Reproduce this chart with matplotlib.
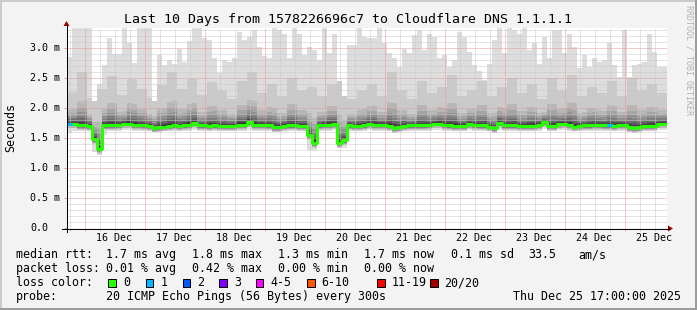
import numpy as np
import matplotlib
matplotlib.use("Agg")
from matplotlib import pyplot as plt
from matplotlib.lines import Line2D
from matplotlib.patches import Polygon, Rectangle
from matplotlib.transforms import offset_copy

plt.rcParams["font.family"] = ["DejaVu Sans Mono"]

# one column = 2 hours, from Thu Dec 15 17:00 to Thu Dec 25 17:00
col_hours = 2

# median rtt of each column (ms)
median_ms = [
    1.74, 1.74, 1.71, 1.71, 1.70, 1.48, 1.32, 1.71, 1.71, 1.71,
    1.72, 1.74, 1.74, 1.72, 1.72, 1.71, 1.70, 1.67, 1.68, 1.69,
    1.70, 1.71, 1.70, 1.71, 1.72, 1.75, 1.71, 1.71, 1.70, 1.71,
    1.70, 1.70, 1.70, 1.70, 1.72, 1.72, 1.76, 1.72, 1.72, 1.72,
    1.71, 1.68, 1.68, 1.70, 1.71, 1.71, 1.70, 1.70, 1.55, 1.42,
    1.71, 1.72, 1.72, 1.73, 1.42, 1.46, 1.71, 1.70, 1.70, 1.71,
    1.73, 1.72, 1.72, 1.72, 1.70, 1.67, 1.68, 1.70, 1.71, 1.71,
    1.71, 1.71, 1.72, 1.74, 1.74, 1.72, 1.71, 1.70, 1.70, 1.70,
    1.73, 1.72, 1.71, 1.71, 1.69, 1.67, 1.75, 1.71, 1.71, 1.71,
    1.70, 1.70, 1.70, 1.70, 1.72, 1.77, 1.70, 1.70, 1.73, 1.74,
    1.72, 1.69, 1.70, 1.71, 1.71, 1.72, 1.72, 1.71, 1.71, 1.70,
    1.72, 1.72, 1.68, 1.67, 1.68, 1.70, 1.70, 1.70, 1.74, 1.74,
]

# lost pings (of 20) per column
loss = [
    1, 0, 0, 0, 0, 0, 0, 0, 0, 0, 0, 0, 0, 0, 0, 0, 0, 0, 0, 0,
    0, 0, 0, 0, 0, 0, 0, 0, 0, 0, 0, 0, 0, 0, 0, 0, 0, 0, 0, 0,
    0, 0, 0, 0, 0, 0, 0, 0, 0, 0, 0, 0, 0, 0, 0, 0, 0, 0, 0, 0,
    0, 0, 0, 0, 0, 0, 0, 0, 0, 0, 0, 0, 0, 0, 0, 0, 0, 0, 0, 0,
    0, 0, 0, 0, 0, 0, 0, 0, 0, 0, 0, 0, 0, 0, 0, 0, 0, 0, 0, 0,
    0, 0, 0, 0, 0, 0, 0, 0, 1, 0, 0, 0, 0, 0, 0, 0, 0, 0, 0, 0,
]

# slowest ping of each column (ms), 3.40 = off the top of the graph
max_ms = [
    2.85, 3.40, 3.40, 3.40, 3.40, 2.11, 2.40, 2.72, 3.17, 2.90,
    2.90, 3.40, 3.08, 2.75, 3.40, 3.40, 3.40, 2.11, 2.88, 2.72,
    2.80, 2.74, 2.99, 2.77, 3.11, 3.40, 3.40, 3.16, 3.13, 2.83,
    2.58, 2.80, 2.77, 2.83, 3.27, 3.13, 3.19, 3.30, 3.02, 2.86,
    2.83, 3.40, 3.30, 3.24, 2.83, 3.40, 3.24, 2.88, 3.02, 2.97,
    2.80, 3.40, 2.91, 3.24, 2.45, 2.20, 3.05, 3.05, 3.40, 3.19,
    3.16, 3.17, 3.40, 3.08, 2.91, 2.83, 2.69, 2.99, 2.91, 3.22,
    3.30, 2.97, 3.24, 3.19, 2.83, 2.88, 2.69, 2.80, 3.27, 3.19,
    2.94, 2.72, 2.61, 2.47, 2.74, 3.13, 3.40, 2.91, 3.40, 3.30,
    3.24, 3.40, 2.97, 3.08, 2.74, 3.19, 2.83, 3.30, 3.30, 2.91,
    3.24, 3.02, 2.66, 2.88, 2.69, 2.83, 2.77, 2.80, 3.08, 2.72,
    2.52, 3.30, 2.52, 2.72, 2.74, 2.77, 3.24, 2.94, 2.69, 2.69,
]

# fastest ping of each column (ms)
min_ms = [
    1.58, 1.61, 1.62, 1.62, 1.61, 1.26, 1.22, 1.55, 1.62, 1.62,
    1.62, 1.63, 1.63, 1.62, 1.62, 1.62, 1.61, 1.60, 1.60, 1.61,
    1.61, 1.62, 1.61, 1.62, 1.62, 1.63, 1.62, 1.62, 1.61, 1.62,
    1.61, 1.61, 1.61, 1.61, 1.62, 1.62, 1.64, 1.62, 1.62, 1.62,
    1.62, 1.60, 1.60, 1.61, 1.62, 1.62, 1.61, 1.61, 1.30, 1.30,
    1.62, 1.62, 1.62, 1.63, 1.33, 1.33, 1.62, 1.61, 1.61, 1.62,
    1.63, 1.62, 1.62, 1.62, 1.61, 1.59, 1.60, 1.61, 1.62, 1.62,
    1.62, 1.62, 1.62, 1.63, 1.63, 1.62, 1.62, 1.61, 1.61, 1.61,
    1.63, 1.62, 1.62, 1.62, 1.61, 1.59, 1.64, 1.62, 1.62, 1.62,
    1.61, 1.61, 1.61, 1.61, 1.62, 1.65, 1.61, 1.61, 1.63, 1.63,
    1.62, 1.61, 1.61, 1.62, 1.62, 1.62, 1.62, 1.62, 1.62, 1.61,
    1.62, 1.62, 1.60, 1.59, 1.60, 1.61, 1.61, 1.61, 1.63, 1.63,
]

# second slowest ping, read every 4 hours (ms)
ping19_ms = [
    2.27, 2.60, 2.16, 2.32, 2.54, 2.21, 2.49, 2.32, 2.16, 2.38,
    2.60, 2.32, 2.49, 2.21, 2.43, 2.30, 2.15, 2.45, 2.60, 2.25,
    2.40, 2.20, 2.50, 2.30, 2.35, 2.20, 2.40, 2.50, 2.15, 2.30,
    2.40, 2.20, 2.60, 2.30, 2.15, 2.45, 2.25, 2.35, 2.55, 2.20,
    2.30, 2.45, 2.20, 2.35, 2.50, 2.25, 2.40, 2.15, 2.50, 2.30,
    2.55, 2.20, 2.35, 2.25, 2.45, 2.20, 2.50, 2.30, 2.40, 2.25,
]

# inner ping pairs: upper one as share of the way from median to ping 19,
# lower one as distance below the median (ms)
band_hi = [0.45, 0.33, 0.25, 0.18, 0.13, 0.09, 0.06, 0.03]
band_lo = [0.065, 0.055, 0.045, 0.035, 0.03, 0.02, 0.015, 0.01]

day_labels = ["16 Dec", "17 Dec", "18 Dec", "19 Dec", "20 Dec",
              "21 Dec", "22 Dec", "23 Dec", "24 Dec", "25 Dec"]
ytick_vals = [0.0, 0.5, 1.0, 1.5, 2.0, 2.5, 3.0]
ytick_labels = ["0.0", "0.5 m", "1.0 m", "1.5 m", "2.0 m", "2.5 m", "3.0 m"]

loss_names = ["0", "1", "2", "3", "4-5", "6-10", "11-19", "20/20"]
loss_colors = ["#26ff00", "#00b8ff", "#0059ff", "#7e00ff",
               "#ff00ff", "#ff5500", "#ff0000", "#a00000"]

rtt_stats = ["1.7 ms avg", "1.8 ms max", "1.3 ms min", "1.7 ms now", "0.1 ms sd", "33.5", "am/s"]
loss_stats = ["0.01 % avg", "0.42 % max", "0.00 % min", "0.00 % now"]

W, H = 697, 310


def fx(x):
    return x / W


def fy(y):
    return 1 - y / H


def loss_index(n):
    if n <= 3:
        return n
    if n <= 5:
        return 4
    if n <= 10:
        return 5
    if n <= 19:
        return 6
    return 7


fig = plt.figure(figsize=(W / 100, H / 100), dpi=100, facecolor="#f3f3f3")
ax = fig.add_axes([fx(67), fy(228), 600 / W, 200 / H])
ax.set_facecolor("white")
n = len(median_ms)
ax.set_xlim(0, n * col_hours)
ax.set_ylim(0, 10 / 3)
for s in ax.spines.values():
    s.set_visible(False)

# ------------------------------------------------------------------
# smoke: pairs of sorted pings, outermost pair lightest
# ------------------------------------------------------------------
edges = np.arange(n + 1) * col_hours
med = np.array(median_ms)
top = np.array(max_ms)
bot = np.array(min_ms)
p19 = np.minimum(np.repeat(ping19_ms, 2), top)

bands = [(bot, top), (np.maximum(med - 0.08, bot), p19)]
for hi, lo in zip(band_hi, band_lo):
    bands.append((med - lo, med + hi * (p19 - med)))

grey = [221, 202, 183, 164, 145, 126, 107, 88, 69, 50]
for (lo, hi), g in zip(bands, grey):
    ax.fill_between(edges, np.append(lo, lo[-1]), np.append(hi, hi[-1]),
                    step="post", color="#%02x%02x%02x" % (g, g, g), lw=0, zorder=1)

# grid on top of the smoke
dot = (0, (1, 1))
for k in range(1, 34):
    major = k % 5 == 0
    ax.axhline(k / 10, color="#e29a9a" if major else "#c8c8c8", lw=0.72, ls=dot, zorder=2)
for h in range(1, n * col_hours, 6):
    major = (h - 7) % 24 == 0
    ax.axvline(h, color="#e29a9a" if major else "#c8c8c8", lw=0.72, ls=dot, zorder=2)

# median line, coloured by loss
ax.step(edges, np.append(med, med[-1]), where="post", color=loss_colors[0], lw=2.16, zorder=4)
for i, l in enumerate(loss):
    if l > 0:
        ax.plot(edges[i:i + 2], [med[i], med[i]], color=loss_colors[loss_index(l)],
                lw=2.16, solid_capstyle="butt", zorder=5)

# tick marks and labels
ax.set_xticks(range(7, n * col_hours, 24), labels=[])
ax.set_xticks(range(1, n * col_hours, 6), labels=[], minor=True)
ax.set_yticks(ytick_vals, labels=[])
ax.tick_params(axis="x", which="major", length=2, width=0.72, color="#e29a9a")
ax.tick_params(axis="x", which="minor", length=2, width=0.72, color="#c8c8c8")
ax.tick_params(axis="y", length=2, width=0.72, color="#e29a9a")

for k, lab in enumerate(day_labels):
    ax.text(19 + 24 * k, -13 / 200, lab, transform=ax.get_xaxis_transform(),
            ha="center", va="baseline", fontsize=7.2)
ytrans = offset_copy(ax.get_yaxis_transform(), fig=fig, x=0, y=-2.7, units="dots")
for v, lab in zip(ytick_vals, ytick_labels):
    ax.text(-36.5 / 600, v, lab, transform=ytrans, ha="left", va="baseline", fontsize=7.2)

# axis lines with arrows
fig.add_artist(Line2D([fx(62), fx(669)], [fy(228.5), fy(228.5)], color="black", lw=0.72))
fig.add_artist(Line2D([fx(66.5), fx(66.5)], [fy(232), fy(25)], color="black", lw=0.72))
fig.add_artist(Polygon([(fx(668), fy(225.5)), (fx(673), fy(228.5)), (fx(668), fy(231.5))],
                       closed=True, color="#a00000", lw=0))
fig.add_artist(Polygon([(fx(63.5), fy(26)), (fx(66.5), fy(21)), (fx(69.5), fy(26))],
                       closed=True, color="#a00000", lw=0))

# texts
fig.text(fx(347.5), fy(23), "Last 10 Days from 1578226696c7 to Cloudflare DNS 1.1.1.1",
         ha="center", va="baseline", fontsize=9.55)
fig.text(fx(11), fy(127.5), "Seconds", rotation=90, ha="center", va="center", fontsize=8.4)
fig.text(fx(688.5), fy(5), "RRDTOOL / TOBI OETIKER", rotation=270, ha="center", va="top",
         fontsize=6, color="#b0b0b0")

lx = [106.5, 192.5, 278.5, 364.5, 451, 528.5, 578.5]
fig.text(fx(15.5), fy(258), "median rtt:", fontsize=8.4, va="baseline")
for x, s in zip(lx, rtt_stats):
    fig.text(fx(x), fy(258), s, fontsize=8.4, va="baseline")
fig.text(fx(15.5), fy(272), "packet loss:", fontsize=8.4, va="baseline")
for x, s in zip(lx, loss_stats):
    fig.text(fx(x), fy(272), s, fontsize=8.4, va="baseline")

fig.text(fx(15.5), fy(286), "loss color:", fontsize=8.4, va="baseline")
box_x = [108.3, 145.7, 182.7, 219.3, 255.7, 307, 377, 430]
for x, name, c in zip(box_x, loss_names, loss_colors):
    fig.add_artist(Rectangle((fx(x), fy(286.5)), 7.5 / W, 7.5 / H, transform=fig.transFigure,
                             facecolor=c, edgecolor="black", lw=0.72))
    fig.text(fx(x + 14.5), fy(286), name, fontsize=8.4, va="baseline")

fig.text(fx(15.5), fy(300), "probe:", fontsize=8.4, va="baseline")
fig.text(fx(106.5), fy(300), "20 ICMP Echo Pings (56 Bytes) every 300s", fontsize=8.4, va="baseline")
fig.text(fx(681), fy(300), "Thu Dec 25 17:00:00 2025", fontsize=8.4, va="baseline", ha="right")

# frame round the picture
fig.add_artist(Line2D([0, 1], [fy(1), fy(1)], color="#cbcbcb", lw=1.44))
fig.add_artist(Line2D([fx(1), fx(1)], [0, 1], color="#cbcbcb", lw=1.44))
fig.add_artist(Line2D([0, 1], [fy(308.5), fy(308.5)], color="#9c9c9c", lw=2.16))
fig.add_artist(Line2D([fx(696), fx(696)], [0, 1], color="#9c9c9c", lw=1.44))

fig.savefig("out.png", dpi=100, facecolor=fig.get_facecolor())
